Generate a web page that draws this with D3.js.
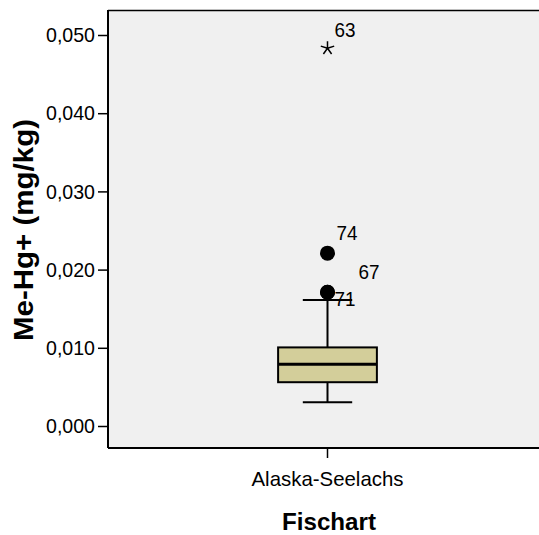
<!DOCTYPE html>
<meta charset="utf-8">
<style>
body { margin: 0; background: #fff; }
text { font-family: "Liberation Sans", Arial, sans-serif; fill: #000; }
.title { font-weight: bold; }
</style>
<body>
<svg width="539" height="535"></svg>
<script src="https://d3js.org/d3.v7.min.js"></script>
<script>
// Me-Hg+ boxplot, one fish species
var categories = ["Alaska-Seelachs"];
var boxStats = [{q1: 0.00560, median: 0.00790, q3: 0.01005, lo: 0.00303, hi: 0.01610}];
var outliers = [
  {id: "74", value: 0.0221, kind: "circle"},
  {id: "67", value: 0.0171, kind: "circle"},
  {id: "71", value: 0.0171, kind: "circle"},
  {id: "63", value: 0.0483, kind: "star"}
];
var yTicks = [0, 0.01, 0.02, 0.03, 0.04, 0.05];

var svg = d3.select("svg");
var pLeft = 108, pTop = 10, pBottom = 448, pRight = 547;

var y = d3.scaleLinear().domain([0, 0.05]).range([426, 35]);
var x = d3.scaleBand().domain(categories).range([pLeft, pRight]);
var deFormat = d3.formatLocale({decimal: ",", thousands: ".", grouping: [3], currency: ["", "€"]}).format(".3f");

// plot background
svg.append("rect")
    .attr("x", pLeft).attr("y", pTop)
    .attr("width", pRight - pLeft).attr("height", pBottom - pTop)
    .attr("fill", "#f0f0f0");

// axes
var yAxis = svg.append("g")
    .attr("transform", "translate(" + pLeft + ",0)")
    .call(d3.axisLeft(y).tickValues(yTicks).tickFormat(deFormat).tickSize(10).tickPadding(3));
var xAxis = svg.append("g")
    .attr("transform", "translate(0," + pBottom + ")")
    .call(d3.axisBottom(x).tickSize(10).tickPadding(12));
yAxis.select(".domain").attr("d", "M0," + pTop + "V" + pBottom);
xAxis.select(".domain").attr("d", "M" + pLeft + ",0H" + pRight);
svg.selectAll(".domain").attr("stroke-width", 2);
svg.selectAll(".tick line").attr("stroke-width", 1.5);
yAxis.selectAll(".tick text")
    .attr("font-size", 21).attr("font-family", null)
    .attr("textLength", 49).attr("lengthAdjust", "spacingAndGlyphs");
xAxis.selectAll(".tick text")
    .attr("font-size", 21).attr("font-family", null).attr("dy", "0.75em")
    .attr("textLength", 152).attr("lengthAdjust", "spacingAndGlyphs");

// top border
svg.append("line")
    .attr("x1", pLeft).attr("x2", pRight)
    .attr("y1", pTop + 0.5).attr("y2", pTop + 0.5)
    .attr("stroke", "#000").attr("stroke-width", 1.5);

// boxes
var bw = x.bandwidth() * 0.225, cw = bw / 2;
var g = svg.append("g").selectAll("g").data(boxStats).enter().append("g")
    .attr("transform", function(d, i) { return "translate(" + (x(categories[i]) + x.bandwidth() / 2) + ",0)"; });

g.append("line")
    .attr("y1", function(d) { return y(d.hi); }).attr("y2", function(d) { return y(d.q3); })
    .attr("stroke", "#000").attr("stroke-width", 2);
g.append("line")
    .attr("y1", function(d) { return y(d.lo); }).attr("y2", function(d) { return y(d.q1); })
    .attr("stroke", "#000").attr("stroke-width", 2);
g.selectAll(".cap").data(function(d) { return [d.hi, d.lo]; }).enter().append("line")
    .attr("x1", -cw / 2).attr("x2", cw / 2)
    .attr("y1", function(v) { return y(v); }).attr("y2", function(v) { return y(v); })
    .attr("stroke", "#000").attr("stroke-width", 2);
g.append("rect")
    .attr("x", -bw / 2).attr("width", bw)
    .attr("y", function(d) { return y(d.q3); })
    .attr("height", function(d) { return y(d.q1) - y(d.q3); })
    .attr("fill", "#d3ce9a").attr("stroke", "#000").attr("stroke-width", 2);
g.append("line")
    .attr("x1", -bw / 2).attr("x2", bw / 2)
    .attr("y1", function(d) { return y(d.median); }).attr("y2", function(d) { return y(d.median); })
    .attr("stroke", "#000").attr("stroke-width", 3);

// outliers and extremes
var cx = x(categories[0]) + x.bandwidth() / 2;
var labelOffset = {"74": [9, -13], "67": [31, -13], "71": [7, 14], "63": [7, -11]};
var star = "M0,-7L0,0M0,0L6.7,-2.2M0,0L-6.7,-2.2M0,0L4.1,5.7M0,0L-4.1,5.7";

svg.append("g").selectAll("circle").data(outliers.filter(function(d) { return d.kind == "circle"; }))
  .enter().append("circle")
    .attr("cx", cx).attr("cy", function(d) { return y(d.value); })
    .attr("r", 7.5).attr("fill", "#000");
svg.append("g").selectAll("path").data(outliers.filter(function(d) { return d.kind == "star"; }))
  .enter().append("path")
    .attr("transform", function(d) { return "translate(" + cx + "," + y(d.value) + ")"; })
    .attr("d", star).attr("stroke", "#000").attr("stroke-width", 1.5).attr("fill", "none");
svg.append("g").selectAll("text").data(outliers).enter().append("text")
    .attr("x", function(d) { return cx + labelOffset[d.id][0]; })
    .attr("y", function(d) { return y(d.value) + labelOffset[d.id][1]; })
    .attr("font-size", 20)
    .attr("textLength", 21).attr("lengthAdjust", "spacingAndGlyphs")
    .text(function(d) { return d.id; });

// axis titles
svg.append("text").attr("class", "title")
    .attr("transform", "translate(33,230) rotate(-90)")
    .attr("text-anchor", "middle").attr("font-size", 27)
    .attr("textLength", 222).attr("lengthAdjust", "spacingAndGlyphs")
    .text("Me-Hg+ (mg/kg)");
svg.append("text").attr("class", "title")
    .attr("x", 329).attr("y", 530)
    .attr("text-anchor", "middle").attr("font-size", 24)
    .attr("textLength", 94).attr("lengthAdjust", "spacingAndGlyphs")
    .text("Fischart");
</script>
</body>
